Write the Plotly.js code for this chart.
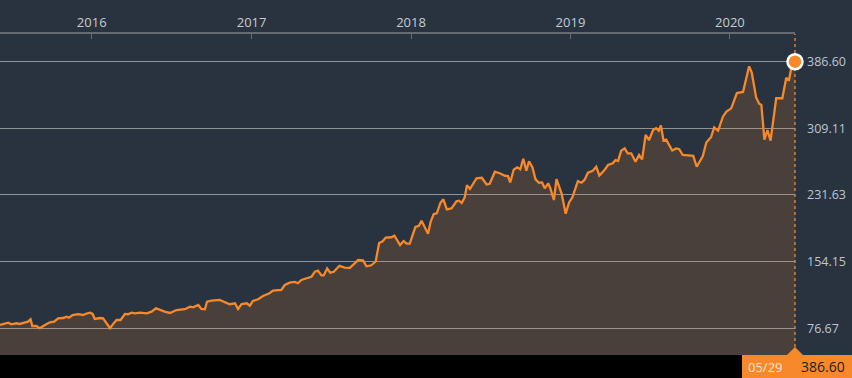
<!DOCTYPE html>
<html><head><meta charset="utf-8">
<script src="https://cdn.plot.ly/plotly-3.0.1.min.js"></script>
<style>html,body{margin:0;padding:0;background:#29333f;overflow:hidden;} #chart{width:852px;height:378px;}</style>
</head><body><div id="chart"></div>
<script>
const dates2015 = ["2015-06-05","2015-06-24","2015-07-01","2015-07-13","2015-07-20","2015-08-01","2015-08-08","2015-08-14","2015-08-18","2015-08-27","2015-09-04","2015-09-16","2015-09-27","2015-10-07","2015-10-16","2015-10-28","2015-11-04","2015-11-10","2015-11-18","2015-12-01","2015-12-12","2015-12-22","2015-12-28"];
const prices2015 = [80.5,83.2,81.3,82.5,81.7,83.2,84.3,87.1,79.3,79.3,76.7,80.5,83.6,84.3,88.3,88.6,90.2,89.0,92.1,93.0,92.1,94.1,94.8];
const dates2016 = ["2016-01-03","2016-01-08","2016-01-20","2016-01-27","2016-02-04","2016-02-12","2016-02-19","2016-02-27","2016-03-07","2016-03-17","2016-03-24","2016-04-01","2016-04-09","2016-04-20","2016-05-06","2016-05-17","2016-05-27","2016-06-05","2016-06-16","2016-06-28","2016-07-13","2016-08-01","2016-08-13","2016-08-20","2016-09-01","2016-09-08","2016-09-16","2016-09-21","2016-10-01","2016-10-20","2016-11-01","2016-11-12","2016-11-24","2016-12-01","2016-12-09","2016-12-21","2016-12-28"];
const prices2016 = [93.3,87.5,88.6,88.3,82.5,76.7,81.7,86.3,86.3,93.3,93.0,94.8,94.1,94.8,94.1,96.0,99.9,97.9,96.0,94.5,97.9,98.8,101.8,101.1,103.8,99.1,98.8,107.6,108.8,109.6,107.2,104.6,105.7,99.1,104.9,105.7,102.9];
const dates2017 = ["2017-01-04","2017-01-16","2017-01-27","2017-02-11","2017-02-19","2017-03-10","2017-03-18","2017-03-29","2017-04-10","2017-04-17","2017-04-25","2017-05-07","2017-05-18","2017-05-26","2017-06-02","2017-06-10","2017-06-15","2017-06-23","2017-06-30","2017-07-08","2017-07-21","2017-08-02","2017-08-14","2017-08-25","2017-09-02","2017-09-13","2017-09-21","2017-10-02","2017-10-12","2017-10-20","2017-10-28","2017-11-04","2017-11-17","2017-11-24","2017-12-07","2017-12-15","2017-12-22","2017-12-29"];
const prices2017 = [108.4,110.4,114.2,117.4,120.4,121.2,127.0,129.7,130.5,129.0,132.8,134.8,136.6,142.5,143.6,138.1,138.1,146.2,141.3,142.4,149.3,147.1,146.8,152.2,156.1,155.7,148.7,149.9,154.3,175.8,177.8,182.2,182.5,184.3,173.5,178.1,175.0,175.0];
const dates2018 = ["2018-01-11","2018-01-19","2018-01-25","2018-02-09","2018-02-15","2018-02-22","2018-03-01","2018-03-09","2018-03-16","2018-03-24","2018-04-04","2018-04-15","2018-04-21","2018-04-27","2018-05-04","2018-05-09","2018-05-16","2018-05-31","2018-06-12","2018-06-23","2018-06-30","2018-07-12","2018-07-23","2018-08-04","2018-08-11","2018-08-16","2018-08-24","2018-09-01","2018-09-08","2018-09-15","2018-09-22","2018-09-28","2018-10-06","2018-10-13","2018-10-21","2018-10-28","2018-11-03","2018-11-11","2018-11-16","2018-11-24","2018-11-30","2018-12-12","2018-12-21","2018-12-29"];
const prices2018 = [194.4,195.8,201.8,186.5,200.8,209.5,210.4,222.3,226.6,215.0,216.2,224.3,225.0,222.3,229.0,242.9,238.8,251.1,251.6,243.8,244.6,258.7,256.9,254.0,253.7,246.2,261.0,263.8,261.6,273.8,259.8,270.8,263.6,249.9,245.9,246.2,239.4,245.2,239.4,225.8,250.0,232.8,209.9,223.3];
const dates2019 = ["2019-01-05","2019-01-18","2019-01-26","2019-02-02","2019-02-10","2019-02-21","2019-03-01","2019-03-08","2019-03-20","2019-03-28","2019-04-08","2019-04-14","2019-04-20","2019-04-27","2019-05-05","2019-05-12","2019-05-20","2019-05-30","2019-06-07","2019-06-14","2019-06-22","2019-06-30","2019-07-09","2019-07-16","2019-07-22","2019-07-27","2019-08-02","2019-08-08","2019-08-22","2019-08-31","2019-09-07","2019-09-15","2019-09-27","2019-10-09","2019-10-17","2019-10-31","2019-11-08","2019-11-19","2019-11-26","2019-12-05","2019-12-16","2019-12-24"];
const prices2019 = [228.4,247.7,245.9,249.1,257.6,259.8,264.5,254.3,260.7,266.5,268.5,272.3,271.2,283.1,285.9,280.1,280.1,270.3,278.1,273.1,301.4,295.6,307.2,309.2,306.4,312.4,295.0,295.9,283.4,285.7,284.9,278.1,277.8,277.2,264.5,277.0,292.7,299.1,310.1,306.4,322.7,328.5];
const dates2020 = ["2020-01-04","2020-01-17","2020-01-31","2020-02-14","2020-02-20","2020-03-01","2020-03-08","2020-03-13","2020-03-20","2020-03-27","2020-04-03","2020-04-16","2020-04-30","2020-05-09","2020-05-15","2020-05-22","2020-05-29"];
const prices2020 = [332.4,350.2,351.4,381.2,374.0,345.0,337.8,336.3,295.9,307.2,294.8,344.1,344.1,367.9,364.5,383.5,386.60];

const yTickValues = [76.67,154.15,231.63,309.11,386.60];
const yTickLabels = ["76.67","154.15","231.63","309.11","386.60"];

const dates = [].concat(dates2015,dates2016,dates2017,dates2018,dates2019,dates2020);
const prices = [].concat(prices2015,prices2016,prices2017,prices2018,prices2019,prices2020);
const lastDate = dates[dates.length-1];
const lastPrice = prices[prices.length-1];

const ORANGE = '#f7892b';
const W = 852, H = 378, ML = 0, MR = 57, MT = 34, MB = 23;
const PW = W - ML - MR, PH = H - MT - MB;
const px = v => v / PW;      // pixel -> paper x
const py = v => v / PH;      // pixel -> paper y

const traces = [
  {x: dates, y: prices, type: 'scatter', mode: 'lines',
   line: {color: ORANGE, width: 2.3}, fill: 'tozeroy', fillcolor: 'rgba(247,137,43,0.16)',
   hoverinfo: 'skip'},
  {x: [lastDate], y: [lastPrice], type: 'scatter', mode: 'markers',
   marker: {size: 15, color: ORANGE, line: {color: '#ffffff', width: 2.5}},
   cliponaxis: false, hoverinfo: 'skip'}
];

const layout = {
  width: W, height: H,
  margin: {l: ML, r: MR, t: MT, b: MB, pad: 0},
  paper_bgcolor: '#29333f', plot_bgcolor: '#29333f',
  showlegend: false,
  font: {family: 'Open Sans, Noto Sans, sans-serif'},
  xaxis: {
    type: 'date', range: ['2015-06-05', lastDate], side: 'top',
    showline: true, linecolor: '#656b72', linewidth: 1.6,
    ticks: 'inside', ticklen: 5, tickcolor: '#656b72', tickwidth: 1,
    tick0: '2016-01-01', dtick: 'M12', tickformat: '%Y',
    showgrid: false, zeroline: false,
    tickfont: {color: '#c6cbd1', size: 13},
    fixedrange: true
  },
  yaxis: {
    side: 'right', range: [45.6, 418.8],
    tickmode: 'array', tickvals: yTickValues, ticktext: yTickLabels,
    showgrid: true, gridcolor: '#8f949a', gridwidth: 1,
    zeroline: false, showline: false, ticks: '',
    ticklabelstandoff: 11,
    tickfont: {color: '#bcc6d2', size: 12.5},
    fixedrange: true
  },
  shapes: [
    {type: 'rect', xref: 'paper', yref: 'paper', x0: -0.01, x1: px(W + 5), y0: -py(MB + 5), y1: 0,
     fillcolor: '#000000', line: {width: 0}},
    {type: 'rect', xref: 'paper', yref: 'paper', x0: px(742), x1: px(W + 5), y0: -py(MB + 5), y1: 0,
     fillcolor: ORANGE, line: {width: 0}},
    {type: 'path', xref: 'paper', yref: 'paper',
     path: `M ${px(787)} 0 L 1 ${py(8)} L ${px(803)} 0 Z`,
     fillcolor: ORANGE, line: {width: 0}},
    {type: 'line', xref: 'paper', yref: 'paper', x0: 1, x1: 1, y0: py(8), y1: 1,
     line: {color: ORANGE, width: 1.3, dash: 'dot'}, layer: 'below'}
  ],
  annotations: [
    {xref: 'paper', yref: 'paper', x: px(765.5), y: -py(11.5), xanchor: 'center', yanchor: 'middle',
     text: lastDate.slice(5, 7) + '/' + lastDate.slice(8, 10), showarrow: false,
     font: {color: '#fce6d4', size: 13}},
    {xref: 'paper', yref: 'paper', x: px(847), y: -py(11.5), xanchor: 'right', yanchor: 'middle',
     text: lastPrice.toFixed(2), showarrow: false,
     font: {color: '#1d1d1d', size: 14}}
  ]
};

Plotly.newPlot('chart', traces, layout, {displayModeBar: false, staticPlot: true});
</script>
</body></html>
